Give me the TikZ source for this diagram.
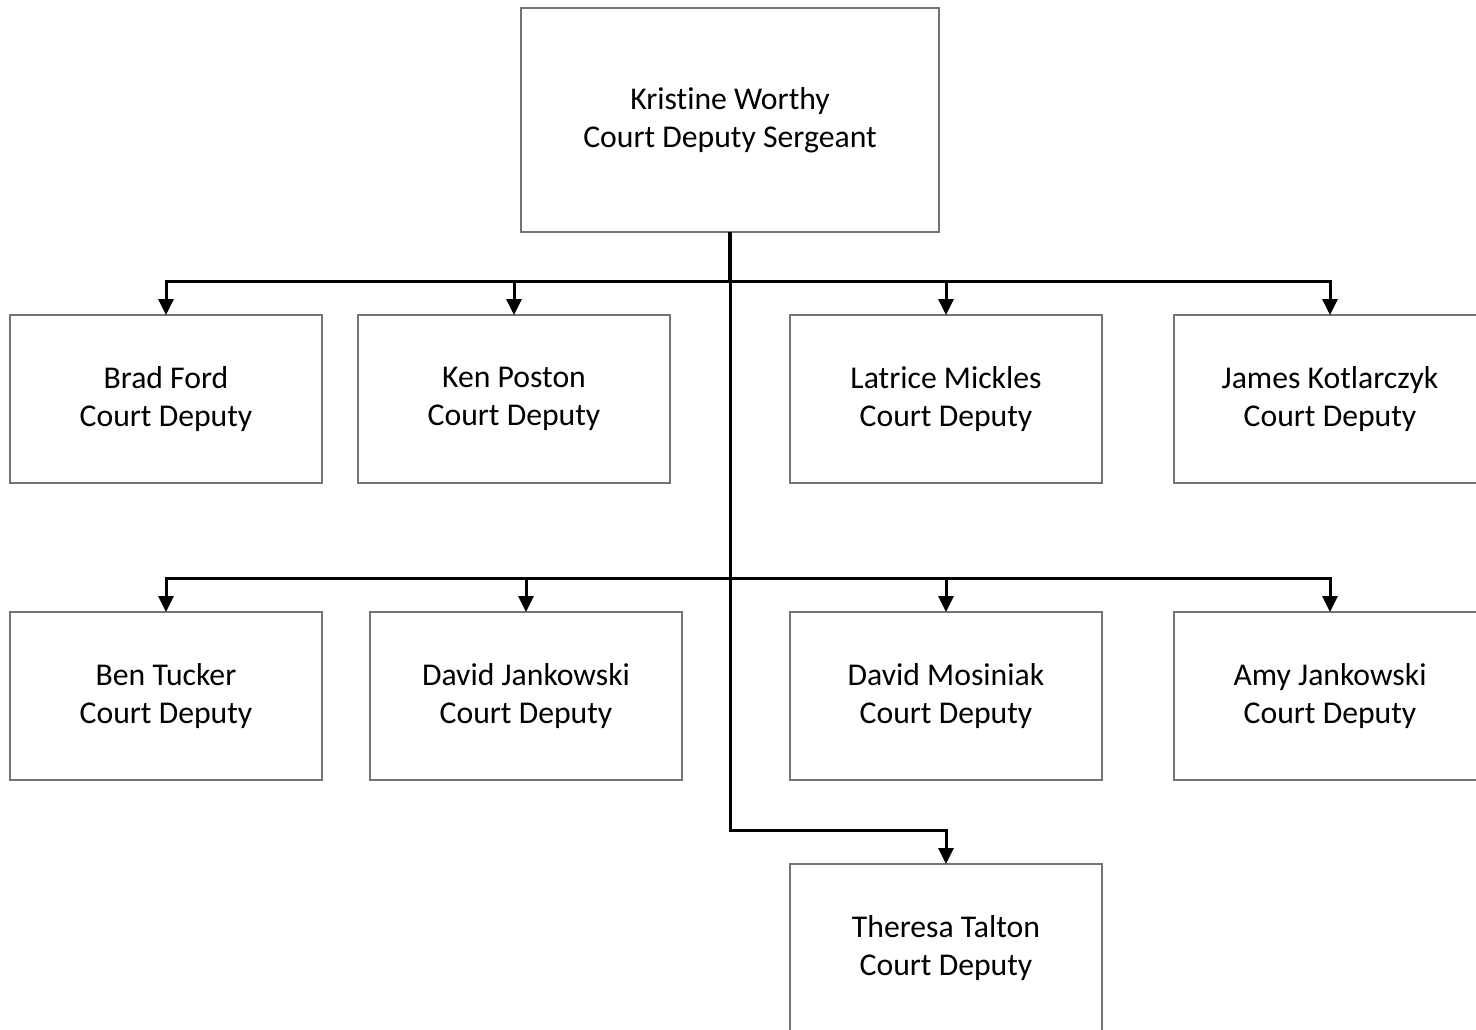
\documentclass[tikz,border=0pt]{standalone}
\usepackage{fontspec}
\setmainfont[Ligatures={NoCommon,NoRare}]{Carlito}
\usetikzlibrary{arrows.meta}
\begin{document}
\begin{tikzpicture}[x=1pt,y=-1pt,
  box/.style={draw=black!55,line width=1.4pt,fill=white,minimum width=312pt,minimum height=168pt,
    inner sep=0pt,outer sep=0pt,align=center,font=\fontsize{31.7}{38}\selectfont,anchor=north west},
  topbox/.style={box,minimum width=418pt,minimum height=224pt},
  conn/.style={draw=black,line width=3pt},
  arr/.style={conn,-{Triangle[length=16pt,width=15pt]}}]
\clip (0,0) rectangle (1476,1029);
\fill[white] (0,0) rectangle (1476,1029);
% nodes
\node[topbox] (top) at (521,8) {Kristine Worthy\\Court Deputy Sergeant};
\node[box] (bf) at (10,315) {Brad Ford\\Court Deputy};
\node[box] (kp) at (358,315) {Ken Poston\\Court Deputy};
\node[box] (lm) at (790,315) {Latrice Mickles\\Court Deputy};
\node[box] (jk) at (1174,315) {James Kotlarczyk\\Court Deputy};
\node[box] (bt) at (10,612) {Ben Tucker\\Court Deputy};
\node[box] (dj) at (370,612) {David Jankowski\\Court Deputy};
\node[box] (dm) at (790,612) {David Mosiniak\\Court Deputy};
\node[box] (aj) at (1174,612) {Amy Jankowski\\Court Deputy};
\node[box] (tt) at (790,864) {Theresa Talton\\Court Deputy};
% junctions
\coordinate (j1) at (730,281);
\coordinate (j2) at (730,578);
\coordinate (j3) at (730,830);
% connectors
\draw[conn,line width=4.5pt] (top.south) -- (j1);
\draw[arr] (j1) -- (j3) -| (tt.north);
\foreach \c in {bf,kp,lm,jk} \draw[arr] (j1) -| (\c.north);
\foreach \c in {bt,dj,dm,aj} \draw[arr] (j2) -| (\c.north);
\end{tikzpicture}
\end{document}
